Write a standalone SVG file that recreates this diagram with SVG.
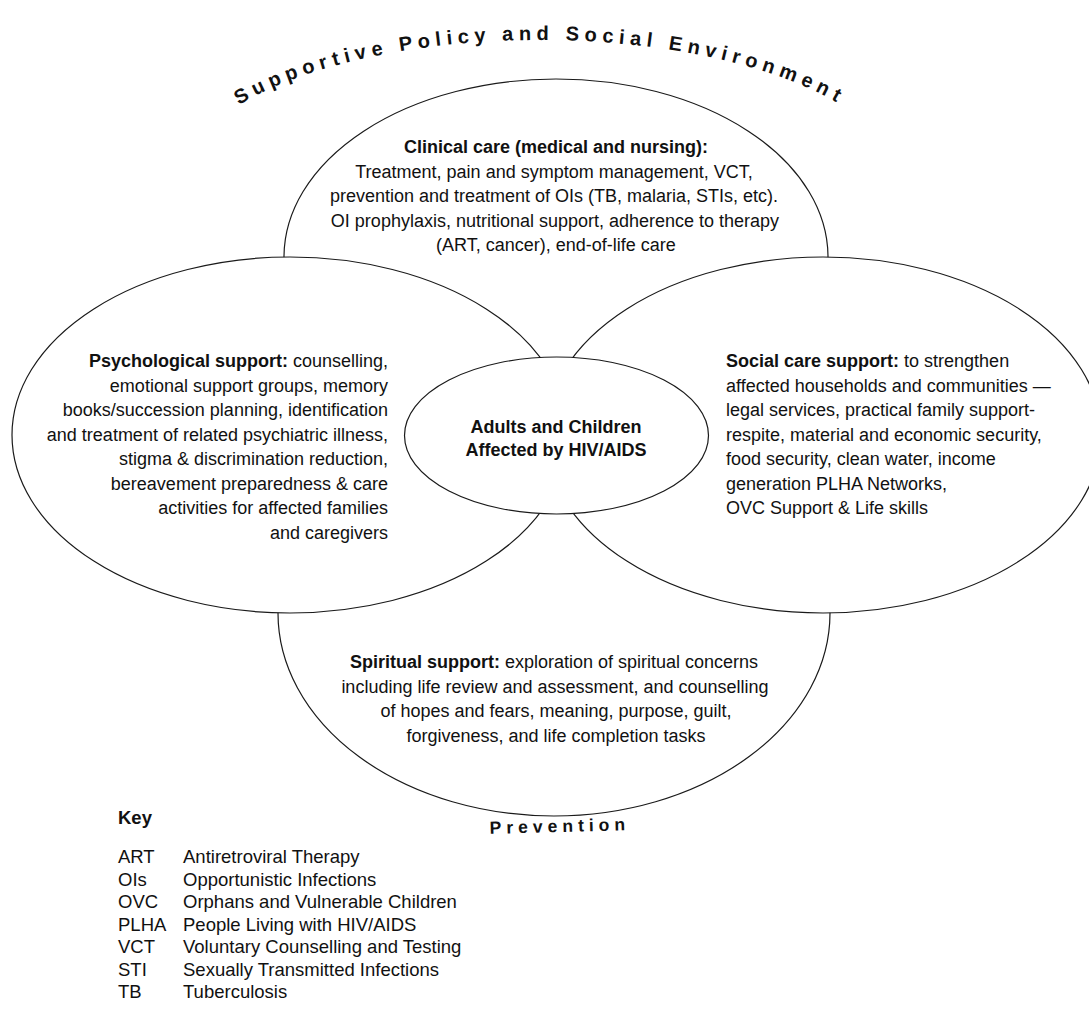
<svg xmlns="http://www.w3.org/2000/svg" width="1089" height="1010" viewBox="0 0 1089 1010">
  <style>
    .lobe { fill: #ffffff; stroke: #1a1a1a; stroke-width: 1.2; }
    .t { font-family: "Liberation Sans", Arial, sans-serif; font-size: 18px; fill: #111111; }
    .b { font-weight: bold; }
    .mid { text-anchor: middle; }
    .end { text-anchor: end; }
    .arc { font-family: "Liberation Sans", Arial, sans-serif; font-size: 20px; font-weight: bold; fill: #111111; letter-spacing: 5.5px; }
    .key { font-family: "Liberation Sans", Arial, sans-serif; font-size: 18.5px; fill: #111111; }
  </style>
  <defs>
    <path id="topArc" d="M 180,184 A 360,144 0 0 1 900,184"/>
  </defs>

  <rect width="1089" height="1010" fill="#ffffff"/>

  <!-- outer lobes: top and bottom sit behind the side lobes -->
  <g id="clinical-care">
    <ellipse class="lobe" cx="556" cy="257" rx="272" ry="178"/>
  </g>
  <g id="spiritual-support">
    <ellipse class="lobe" cx="554" cy="613" rx="276" ry="203"/>
  </g>
  <g id="psychological-support">
    <ellipse class="lobe" cx="290" cy="435" rx="278" ry="178"/>
  </g>
  <g id="social-care-support">
    <ellipse class="lobe" cx="823" cy="435" rx="278" ry="178"/>
  </g>
  <g id="core">
    <ellipse class="lobe" cx="556.5" cy="435.5" rx="152" ry="78.5"/>
    <text class="t b mid" x="556" y="433">Adults and Children</text>
    <text class="t b mid" x="556" y="456">Affected by HIV/AIDS</text>
  </g>

  <!-- no connectors in this figure -->
  <g id="connectors"/>

  <g id="clinical-text">
    <text class="t b mid" x="556" y="153">Clinical care (medical and nursing):</text>
    <text class="t mid" x="554" y="177.5">Treatment, pain and symptom management, VCT,</text>
    <text class="t mid" x="554" y="202">prevention and treatment of OIs (TB, malaria, STIs, etc).</text>
    <text class="t mid" x="555" y="226.5">OI prophylaxis, nutritional support, adherence to therapy</text>
    <text class="t mid" x="556" y="251">(ART, cancer), end-of-life care</text>
  </g>

  <g id="psychological-text">
    <text class="t end" x="388" y="367"><tspan class="b">Psychological support:</tspan> counselling,</text>
    <text class="t end" x="388" y="391.5">emotional support groups, memory</text>
    <text class="t end" x="388" y="416">books/succession planning, identification</text>
    <text class="t end" x="388" y="440.5">and treatment of related psychiatric illness,</text>
    <text class="t end" x="388" y="465">stigma &amp; discrimination reduction,</text>
    <text class="t end" x="388" y="489.5">bereavement preparedness &amp; care</text>
    <text class="t end" x="388" y="514">activities for affected families</text>
    <text class="t end" x="388" y="538.5">and caregivers</text>
  </g>

  <g id="social-text">
    <text class="t" x="726" y="367"><tspan class="b">Social care support:</tspan> to strengthen</text>
    <text class="t" x="726" y="391.5">affected households and communities —</text>
    <text class="t" x="726" y="416">legal services, practical family support-</text>
    <text class="t" x="726" y="440.5">respite, material and economic security,</text>
    <text class="t" x="726" y="465">food security, clean water, income</text>
    <text class="t" x="726" y="489.5">generation PLHA Networks,</text>
    <text class="t" x="726" y="514">OVC Support &amp; Life skills</text>
  </g>

  <g id="spiritual-text">
    <text class="t mid" x="554" y="668"><tspan class="b">Spiritual support:</tspan> exploration of spiritual concerns</text>
    <text class="t mid" x="555" y="692.5">including life review and assessment, and counselling</text>
    <text class="t mid" x="556" y="717">of hopes and fears, meaning, purpose, guilt,</text>
    <text class="t mid" x="556" y="741.5">forgiveness, and life completion tasks</text>
  </g>

  <g id="environment-label">
    <text class="arc"><textPath href="#topArc" startOffset="50%" text-anchor="middle">Supportive Policy and Social Environment</textPath></text>
  </g>

  <g id="prevention-label">
    <text class="arc" x="560" y="832" text-anchor="middle" transform="rotate(-1.5 560 832)" style="font-size:17.5px;letter-spacing:5px">Prevention</text>
  </g>

  <g id="key">
    <text class="key b" x="118" y="824">Key</text>
    <text class="key" x="118" y="863">ART</text><text class="key" x="183" y="863">Antiretroviral Therapy</text>
    <text class="key" x="118" y="885.5">OIs</text><text class="key" x="183" y="885.5">Opportunistic Infections</text>
    <text class="key" x="118" y="908">OVC</text><text class="key" x="183" y="908">Orphans and Vulnerable Children</text>
    <text class="key" x="118" y="930.5">PLHA</text><text class="key" x="183" y="930.5">People Living with HIV/AIDS</text>
    <text class="key" x="118" y="953">VCT</text><text class="key" x="183" y="953">Voluntary Counselling and Testing</text>
    <text class="key" x="118" y="975.5">STI</text><text class="key" x="183" y="975.5">Sexually Transmitted Infections</text>
    <text class="key" x="118" y="998">TB</text><text class="key" x="183" y="998">Tuberculosis</text>
  </g>
</svg>
